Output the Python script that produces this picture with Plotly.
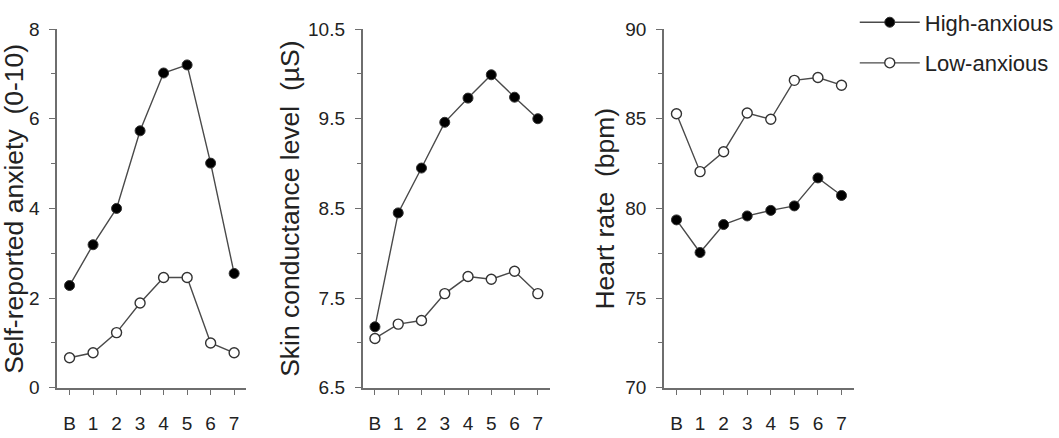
import plotly.graph_objects as go
from plotly.subplots import make_subplots

categories = ["B", "1", "2", "3", "4", "5", "6", "7"]

anxiety_high = [2.28, 3.19, 4.0, 5.73, 7.02, 7.2, 5.01, 2.55]
anxiety_low = [0.67, 0.78, 1.23, 1.89, 2.46, 2.46, 1.0, 0.78]

scl_high = [7.18, 8.45, 8.95, 9.46, 9.73, 9.99, 9.74, 9.50]
scl_low = [7.05, 7.21, 7.25, 7.55, 7.74, 7.71, 7.80, 7.55]

hr_high = [79.36, 77.54, 79.1, 79.58, 79.89, 80.14, 81.7, 80.72]
hr_low = [85.28, 82.05, 83.16, 85.32, 84.97, 87.14, 87.3, 86.87]

group_names = ["High-anxious", "Low-anxious"]
y_titles = ["Self-reported anxiety  (0-10)", "Skin conductance level  (µS)", "Heart rate  (bpm)"]

W, H = 1059, 438
FONT = "Liberation Sans, Arial, sans-serif"
TXT = "#222222"
AX = "#6e6e6e"
LINE = "#4a4a4a"

fig = make_subplots(rows=1, cols=3)

panels = [
    (anxiety_high, anxiety_low),
    (scl_high, scl_low),
    (hr_high, hr_low),
]

for i, (hi, lo) in enumerate(panels):
    col = i + 1
    fig.add_trace(go.Scatter(
        x=categories, y=hi, mode="lines+markers", name=group_names[0],
        line=dict(color=LINE, width=1.4),
        marker=dict(symbol="circle", size=10, color="black", line=dict(color="#333333", width=1)),
        showlegend=(i == 0), legendgroup="hi"), row=1, col=col)
    fig.add_trace(go.Scatter(
        x=categories, y=lo, mode="lines+markers", name=group_names[1],
        line=dict(color=LINE, width=1.4),
        marker=dict(symbol="circle", size=10, color="white", line=dict(color="#333333", width=1.4)),
        showlegend=(i == 0), legendgroup="lo"), row=1, col=col)

# pixel-based domains
xdoms = [(57.3, 247.3), (364.0, 552.0), (666.5, 857.0)]
ytop, ybot = 20.0, 396.8
ydom = [1 - ybot / H, 1 - ytop / H]

yaxes_cfg = [
    dict(range=[0, 8], tick0=0, dtick=2, minor=dict(dtick=1, ticklen=4, tickcolor=AX, ticks="outside")),
    dict(range=[6.5, 10.5], tick0=6.5, dtick=1, tickformat=".1f", minor=dict(dtick=0.5, ticklen=4, tickcolor=AX, ticks="outside")),
    dict(range=[70, 90], tick0=70, dtick=5, minor=dict(dtick=2.5, ticklen=4, tickcolor=AX, ticks="outside")),
]

for i in range(3):
    xa = "xaxis" if i == 0 else f"xaxis{i+1}"
    ya = "yaxis" if i == 0 else f"yaxis{i+1}"
    fig.layout[xa].update(
        domain=[xdoms[i][0] / W, xdoms[i][1] / W],
        type="category", categoryorder="array", categoryarray=categories,
        range=[-0.53, 7.52],
        showline=True, linecolor=AX, linewidth=1.6,
        ticks="outside", ticklen=5, tickwidth=1.2, tickcolor=AX,
        showgrid=False, zeroline=False,
        tickfont=dict(family=FONT, size=19, color=TXT),
        ticklabelstandoff=13,
    )
    fig.layout[ya].update(
        domain=ydom,
        showline=True, linecolor=AX, linewidth=1.6,
        ticks="outside", ticklen=6, tickwidth=1.2, tickcolor=AX,
        showgrid=False, zeroline=False,
        tickfont=dict(family=FONT, size=19, color=TXT),
        ticklabelstandoff=6,
        **yaxes_cfg[i],
    )

# axis titles as annotations
title_x = [14.5, 291.5, 607.5]
for i in range(3):
    fig.add_annotation(
        x=title_x[i] / W, y=(ydom[0] + ydom[1]) / 2, xref="paper", yref="paper",
        text=y_titles[i], textangle=-90, showarrow=False,
        xanchor="center", yanchor="middle",
        font=dict(family=FONT, size=26.5, color=TXT),
    )

fig.update_layout(
    width=W, height=H,
    margin=dict(l=0, r=0, t=0, b=0),
    paper_bgcolor="white", plot_bgcolor="white",
    showlegend=True,
    legend=dict(
        x=858 / W, y=1 + 9 / H, xanchor="left", yanchor="top",
        font=dict(family=FONT, size=22, color=TXT),
        bgcolor="rgba(0,0,0,0)", itemwidth=60, tracegroupgap=9,
    ),
)

fig.write_html("out.html")
